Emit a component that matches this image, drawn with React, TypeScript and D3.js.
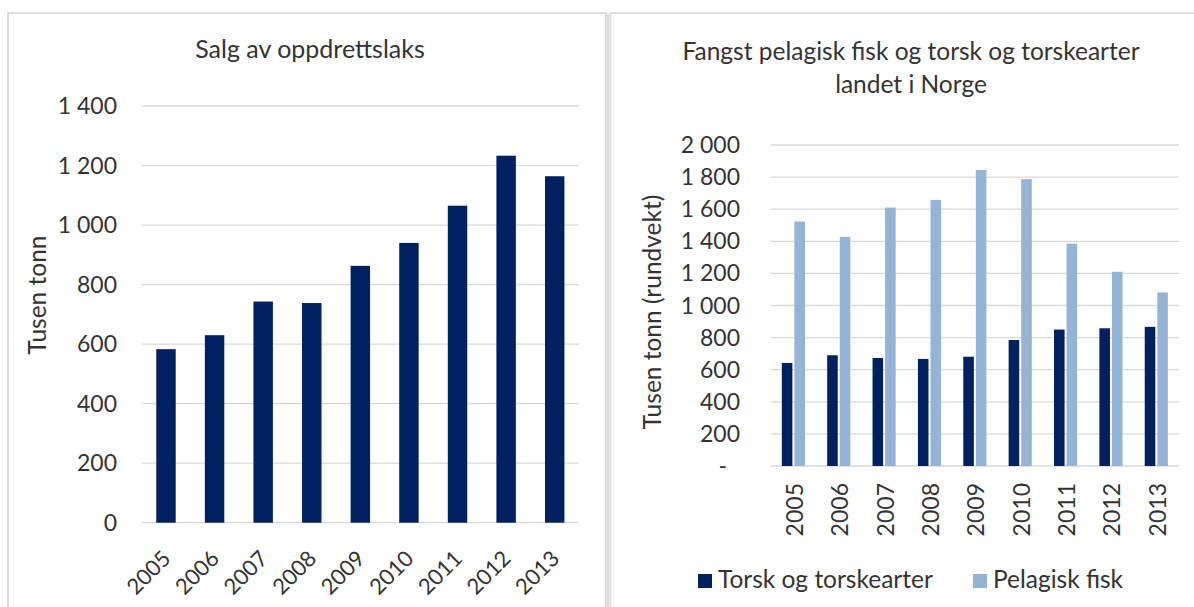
import React from 'react';
import * as d3 from 'd3';

// år på x-aksen (begge diagram)
const years = ['2005', '2006', '2007', '2008', '2009', '2010', '2011', '2012', '2013'];

// Salg av oppdrettslaks, tusen tonn
const salmon = [583, 630, 743, 738, 863, 940, 1065, 1233, 1164];

// Fangst landet i Norge, tusen tonn (rundvekt)
const cod = [642, 690, 673, 667, 681, 785, 850, 858, 867];
const pelagic = [1523, 1427, 1610, 1658, 1844, 1787, 1385, 1210, 1081];

const leftTicks = [0, 200, 400, 600, 800, 1000, 1200, 1400];
const rightTicks = [0, 200, 400, 600, 800, 1000, 1200, 1400, 1600, 1800, 2000];

const seriesNames = ['Torsk og torskearter', 'Pelagisk fisk'];
const seriesKeys = ['cod', 'pelagic'];

const DARK = '#002060';
const LIGHT = '#95b3d7';
const GRID = '#d9d9d9';
const TEXT = '#333333';
const FONT = 'Lato, "Open Sans", sans-serif';

// "1 400" med mellomrom som tusenskille
const fmt = (n: number) =>
  n >= 1000 ? `${Math.floor(n / 1000)} ${String(n % 1000).padStart(3, '0')}` : String(n);

const App: React.FC = () => {
  // venstre diagram
  const xL = d3.scaleBand<string>().domain(years).range([141.7, 579]).paddingInner(0.6).paddingOuter(0.3);
  const yL = d3.scaleLinear().domain([0, 1400]).range([522.7, 106]);

  // høyre diagram
  const xR = d3.scaleBand<string>().domain(years).range([770.7, 1179]).paddingInner(0.49).paddingOuter(0.245);
  const xR1 = d3.scaleBand<string>().domain(seriesKeys).range([0, xR.bandwidth()]).paddingInner(0.16);
  const yR = d3.scaleLinear().domain([0, 2000]).range([466, 145]);

  const rightData = years.map((yr, i) => ({ year: yr, cod: cod[i], pelagic: pelagic[i] }));

  return (
    <svg
      width={1194}
      height={607}
      style={{ position: 'absolute', left: 0, top: 0, background: '#fff' }}
      fontFamily={FONT}
    >
      {/* panelrammer */}
      <rect x={8} y={13} width={598} height={620} fill="none" stroke="#dcdfe1" strokeWidth={2} />
      <rect x={606.5} y={13} width={3} height={620} fill="#dcdfe1" />
      <rect x={610.5} y={13} width={600} height={620} fill="none" stroke="#dcdfe1" strokeWidth={2} />

      {/* ---------- Salg av oppdrettslaks ---------- */}
      <text x={310} y={58} textAnchor="middle" fontSize={25} fill={TEXT}>
        Salg av oppdrettslaks
      </text>
      {leftTicks.map(t => (
        <g key={`lg${t}`}>
          <line x1={141.7} x2={579} y1={yL(t)} y2={yL(t)} stroke={GRID} strokeWidth={1.3} />
          <text x={117} y={yL(t)} dy="0.35em" textAnchor="end" fontSize={23} fill={TEXT}>
            {fmt(t)}
          </text>
        </g>
      ))}
      {years.map((yr, i) => (
        <rect key={`lb${yr}`} x={xL(yr)} y={yL(salmon[i])} width={xL.bandwidth()} height={yL(0) - yL(salmon[i])} fill={DARK} />
      ))}
      {years.map(yr => {
        const cx = xL(yr)! + xL.bandwidth() / 2 + 6;
        return (
          <text key={`lx${yr}`} transform={`translate(${cx},560) rotate(-45)`} textAnchor="end" fontSize={22} fill={TEXT}>
            {yr}
          </text>
        );
      })}
      <text transform="translate(46,295) rotate(-90)" textAnchor="middle" fontSize={24.5} fill={TEXT}>
        Tusen tonn
      </text>

      {/* ---------- Fangst pelagisk fisk og torsk ---------- */}
      <text x={911} y={60} textAnchor="middle" fontSize={24.5} fill={TEXT}>
        Fangst pelagisk fisk og torsk og torskearter
      </text>
      <text x={911} y={93} textAnchor="middle" fontSize={24.5} fill={TEXT}>
        landet i Norge
      </text>
      {rightTicks.map(t => (
        <g key={`rg${t}`}>
          <line x1={770.7} x2={1179} y1={yR(t)} y2={yR(t)} stroke={GRID} strokeWidth={1.3} />
          <text
            x={t === 0 ? 727 : 740}
            y={yR(t)}
            dy="0.35em"
            textAnchor="end"
            fontSize={23}
            fill={TEXT}
          >
            {t === 0 ? '-' : fmt(t)}
          </text>
        </g>
      ))}
      {rightData.map(d => (
        <g key={`rb${d.year}`} transform={`translate(${xR(d.year)},0)`}>
          <rect x={xR1('cod')} y={yR(d.cod)} width={xR1.bandwidth()} height={yR(0) - yR(d.cod)} fill={DARK} />
          <rect x={xR1('pelagic')} y={yR(d.pelagic)} width={xR1.bandwidth()} height={yR(0) - yR(d.pelagic)} fill={LIGHT} />
        </g>
      ))}
      {years.map(yr => {
        const cx = xR(yr)! + xR.bandwidth() / 2 + 9.5;
        return (
          <text key={`rx${yr}`} transform={`translate(${cx},483) rotate(-90)`} textAnchor="end" fontSize={23} fill={TEXT}>
            {yr}
          </text>
        );
      })}
      <text transform="translate(661,312) rotate(-90)" textAnchor="middle" fontSize={24.5} fill={TEXT}>
        Tusen tonn (rundvekt)
      </text>

      {/* forklaring */}
      {seriesNames.map((name, i) => {
        const x0 = i === 0 ? 698 : 973;
        return (
          <g key={name}>
            <rect x={x0} y={574} width={14} height={14} fill={i === 0 ? DARK : LIGHT} />
            <text x={x0 + 20} y={588} fontSize={24.5} fill={TEXT}>
              {name}
            </text>
          </g>
        );
      })}
    </svg>
  );
};

export default App;
